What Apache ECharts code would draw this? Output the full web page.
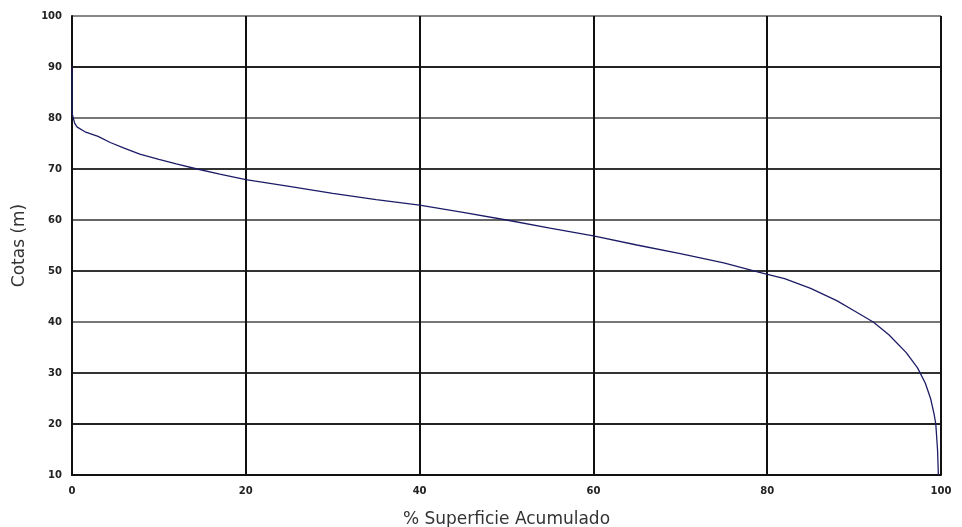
<!DOCTYPE html>
<html>
<head>
<meta charset="utf-8">
<script src="https://cdn.jsdelivr.net/npm/echarts@6/dist/echarts.min.js"></script>
<style>
  html, body { margin: 0; padding: 0; background: #fff; }
  #chart { width: 962px; height: 527px; }
</style>
</head>
<body>
<div id="chart"></div>
<script>
// % superficie acumulado vs cota
var superficie = [0, 0, 0.3, 0.6, 1.5, 3, 4.4, 6, 7.8, 10, 12, 14.4, 17, 20, 25, 30, 35, 40, 45, 50, 55, 60, 65, 70, 75, 79, 82, 85, 88, 90, 92.2, 94, 96, 97.3, 98.2, 98.8, 99.2, 99.4, 99.6, 99.7];
var cotas =      [90, 81, 79, 78.2, 77.3, 76.4, 75.2, 74.1, 72.9, 71.9, 71, 70, 69, 67.9, 66.6, 65.2, 64, 62.9, 61.5, 60, 58.4, 56.9, 55.1, 53.4, 51.6, 49.8, 48.5, 46.6, 44.2, 42.2, 40, 37.5, 34, 31, 28, 25, 22, 20, 15, 10];
var xTicks = [0, 20, 40, 60, 80, 100];
var yTicks = [10, 20, 30, 40, 50, 60, 70, 80, 90, 100];

var chart = echarts.init(document.getElementById('chart'));
var options = {
  animation: false,
  grid: { left: 72, right: 21, top: 16, bottom: 52, outerBoundsMode: 'none' },
  xAxis: {
    type: 'value',
    min: 0, max: 100, interval: 20,
    name: '% Superficie Acumulado',
    nameLocation: 'middle',
    nameGap: 36,
    nameTextStyle: { fontFamily: 'DejaVu Sans', fontSize: 17, color: '#333' },
    axisLine: { show: true, lineStyle: { color: '#111', width: 2 } },
    axisTick: { show: false },
    axisLabel: {
      fontFamily: 'DejaVu Sans', fontSize: 10, fontWeight: 'bold', color: '#222', margin: 11,
      formatter: function(v) { return xTicks.indexOf(v) >= 0 ? String(v) : ''; }
    },
    splitLine: { show: true, lineStyle: { color: '#111', width: 2 } }
  },
  yAxis: {
    type: 'value',
    min: 10, max: 100, interval: 10,
    name: 'Cotas (m)',
    nameLocation: 'middle',
    nameGap: 44,
    nameRotate: 90,
    nameTextStyle: { fontFamily: 'DejaVu Sans', fontSize: 17, color: '#333' },
    axisLine: { show: true, lineStyle: { color: '#111', width: 2 } },
    axisTick: { show: false },
    axisLabel: {
      fontFamily: 'DejaVu Sans', fontSize: 10, fontWeight: 'bold', color: '#222', margin: 10,
      formatter: function(v) { return yTicks.indexOf(v) >= 0 ? String(v) : ''; }
    },
    splitLine: {
      show: true,
      lineStyle: { color: ['#222', '#222', '#333', '#777', '#333', '#666', '#333', '#777', '#222', '#888'], width: 2 }
    }
  },
  series: [
    {
      type: 'line',
      data: superficie.map(function(x, i) { return [x, cotas[i]]; }),
      showSymbol: false,
      smooth: false,
      lineStyle: { color: '#1c1c66', width: 1.3 }
    }
  ]
};
chart.setOption(options);
</script>
</body>
</html>
